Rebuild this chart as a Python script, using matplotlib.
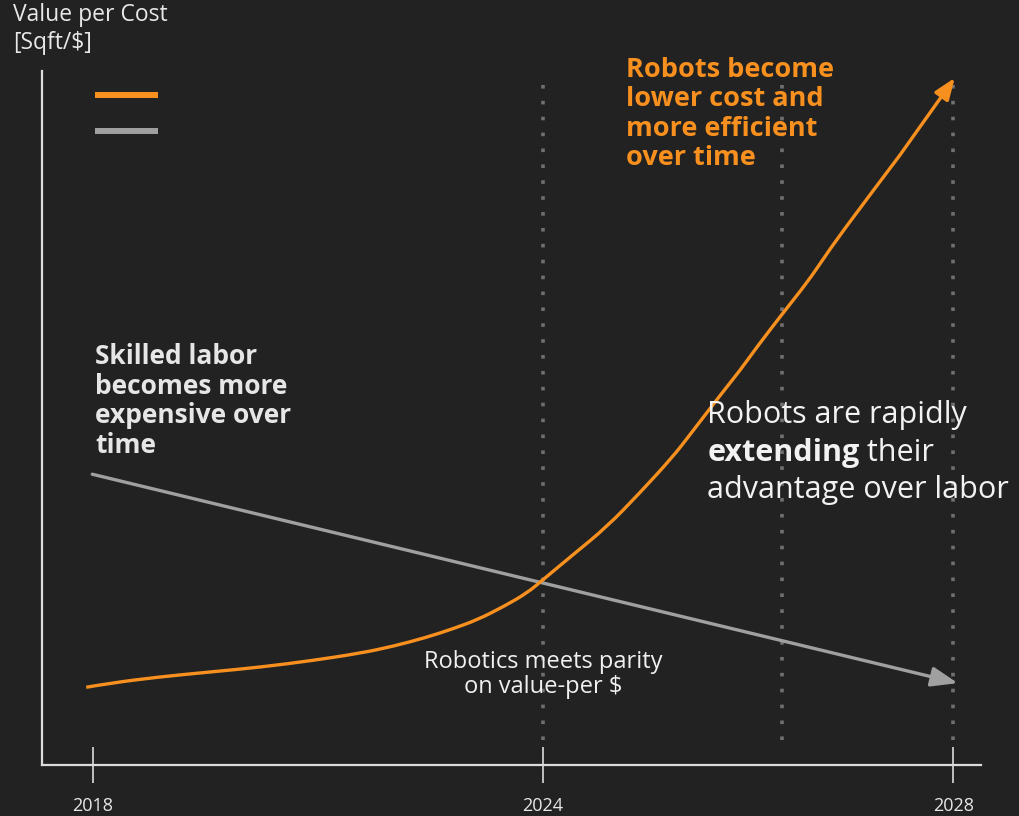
import numpy as np
import matplotlib
matplotlib.use('Agg')
import matplotlib.pyplot as plt
from matplotlib.path import Path
from matplotlib.patches import PathPatch

plt.rcParams['font.family'] = ['Open Sans', 'DejaVu Sans']

# timeline position (2018 = 0, 2024 = 6) and value per cost
robot_t = [-0.09, 0.23, 0.89, 1.56, 2.23, 2.89, 3.56, 4.0, 4.45, 4.79, 5.12, 5.47, 5.79,
           6.0, 6.4, 6.85, 7.29, 7.73, 7.96, 8.4, 8.63, 8.85, 9.19, 9.52, 9.73, 9.96, 10.76, 11.49]
robot_v = [1.12, 1.18, 1.27, 1.34, 1.41, 1.50, 1.61, 1.71, 1.84, 1.96, 2.09, 2.28, 2.48,
           2.67, 3.03, 3.43, 3.92, 4.44, 4.76, 5.38, 5.69, 6.02, 6.50, 6.95, 7.28, 7.64, 8.79, 9.90]
labor_t = [-0.01, 11.53]
labor_v = [4.19, 1.18]

tick_pos = [0, 6, 11.47]
tick_labels = ['2018', '2024', '2028']
marker_pos = [6, 9.19, 11.47]

orange = '#f7901e'
gray = '#a0a0a0'
bg = '#222222'

fig = plt.figure(figsize=(10.19, 8.16), dpi=100, facecolor=bg)
ax = fig.add_axes([42/1019, 51/816, 939/1019, 694/816])
ax.set_facecolor(bg)
ax.set_xlim(-0.68, 11.84)
ax.set_ylim(0, 10)

for s in ['top', 'right']:
    ax.spines[s].set_visible(False)
for s in ['left', 'bottom']:
    ax.spines[s].set_color('#dcdcdc')
    ax.spines[s].set_linewidth(1.6)

ax.set_yticks([])
ax.set_xticks(tick_pos, tick_labels)
ax.tick_params(axis='x', direction='inout', length=26, width=1.2, color='#dcdcdc',
               labelcolor='#e8e8e8', labelsize=13, pad=10)

for x in marker_pos:
    ax.plot([x, x], [0.36, 9.95], color='#707070', lw=2.6, linestyle=(0, (1, 3.4)),
            dash_capstyle='butt', zorder=1)

# smooth orange curve: quadratic segments through midpoints of the read points
pts = np.column_stack([robot_t[:-1], robot_v[:-1]])
verts = [pts[0]]
codes = [Path.MOVETO]
for i in range(1, len(pts) - 1):
    verts += [pts[i], (pts[i] + pts[i + 1]) / 2]
    codes += [Path.CURVE3, Path.CURVE3]
verts.append(pts[-1])
codes.append(Path.LINETO)
ax.add_patch(PathPatch(Path(verts, codes), transform=ax.transData, fill=False,
                       edgecolor=orange, lw=2.4, capstyle='butt', zorder=3))
ax.annotate('', xy=(robot_t[-1], robot_v[-1]), xytext=(robot_t[-2], robot_v[-2]),
            arrowprops=dict(arrowstyle='-|>,head_length=1.3,head_width=0.5', color=orange,
                            lw=2.4, shrinkA=0, shrinkB=0), zorder=3)
ax.annotate('', xy=(labor_t[1], labor_v[1]), xytext=(labor_t[0], labor_v[0]),
            arrowprops=dict(arrowstyle='-|>,head_length=1.6,head_width=0.6', color=gray,
                            lw=2.4, shrinkA=0, shrinkB=0), zorder=2)

# legend swatches
ax.plot([0.056, 0.1235], [0.965, 0.965], color=orange, lw=4.3, transform=ax.transAxes,
        solid_capstyle='butt')
ax.plot([0.056, 0.1235], [0.9135, 0.9135], color=gray, lw=4.3, transform=ax.transAxes,
        solid_capstyle='butt')

# texts
fig.text(13/1019, 1 - 3/816, 'Value per Cost\n[Sqft/$]', color='#e8e8e8', fontsize=16.5,
         va='top', ha='left', linespacing=1.2)
ax.text(0.03, 6.08, 'Skilled labor\nbecomes more\nexpensive over\ntime', color='#e6e6e6',
        fontsize=19, fontweight='bold', va='top', ha='left', linespacing=1.12)
ax.text(7.11, 10.2, 'Robots become\nlower cost and\nmore efficient\nover time', color=orange,
        fontsize=19.5, fontweight='bold', va='top', ha='left', linespacing=1.16)

xr = 8.19
fs = 22
ax.text(xr, 4.93, 'Robots are rapidly', color='#f2f2f2', fontsize=fs, va='baseline', ha='left')
t1 = ax.text(xr, 4.38, 'extending', color='#f2f2f2', fontsize=fs, fontweight='bold',
             va='baseline', ha='left')
ax.text(xr, 3.85, 'advantage over labor', color='#f2f2f2', fontsize=fs, va='baseline', ha='left')
fig.canvas.draw()
bb = t1.get_window_extent()
x_end = ax.transData.inverted().transform((bb.x1, bb.y0))[0]
ax.text(x_end, 4.38, ' their', color='#f2f2f2', fontsize=fs, va='baseline', ha='left')

ax.text(6.0, 1.3, 'Robotics meets parity\non value-per $', color='#f0f0f0', fontsize=17,
        va='center', ha='center', linespacing=1.05)

fig.savefig('out.png', dpi=100, facecolor=bg)
